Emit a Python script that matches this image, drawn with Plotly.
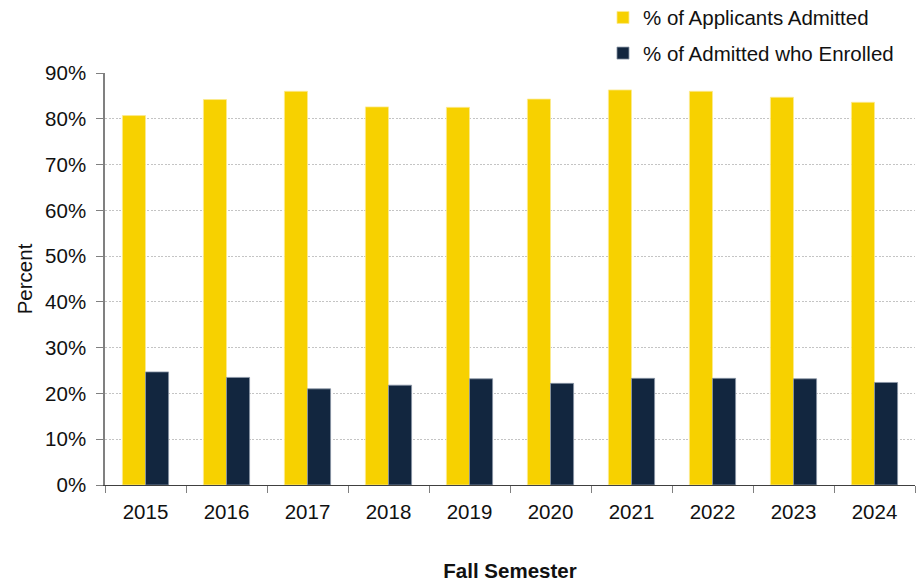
import plotly.graph_objects as go

# Fall admission and yield rates by year
years = ["2015", "2016", "2017", "2018", "2019", "2020", "2021", "2022", "2023", "2024"]
pct_admitted = [80.7, 84.2, 86.0, 82.6, 82.5, 84.3, 86.3, 86.0, 84.7, 83.6]
pct_enrolled = [24.7, 23.5, 21.0, 21.8, 23.2, 22.2, 23.3, 23.3, 23.2, 22.4]

series_names = ["% of Applicants Admitted", "% of Admitted who Enrolled"]
y_ticks = [0, 10, 20, 30, 40, 50, 60, 70, 80, 90]
y_tick_text = [f"{v}%" for v in y_ticks]

gold = "#F7D100"
navy = "#12263F"
font_family = "Liberation Sans, Arial, sans-serif"
fs = 20.5

fig = go.Figure()
fig.add_trace(go.Bar(
    x=years, y=pct_admitted, name=series_names[0], legendgroup="a",
    marker=dict(color=gold, line=dict(color="#FBEA90", width=0.8)),
))
fig.add_trace(go.Bar(
    x=years, y=pct_enrolled, name=series_names[1], legendgroup="b",
    marker=dict(color=navy, line=dict(color="#8A96A6", width=0.8)),
))

fig.update_layout(
    width=918, height=582,
    margin=dict(l=105, r=3, t=73, b=97, autoexpand=False),
    paper_bgcolor="white", plot_bgcolor="white",
    barmode="group", bargap=0.43, bargroupgap=0,
    font=dict(family=font_family, size=fs, color="#111111"),
    legend=dict(
        x=0.6148, xanchor="left", y=1.183, yanchor="top",
        traceorder="grouped", tracegroupgap=6,
        font=dict(size=fs), itemclick=False,
        bgcolor="rgba(0,0,0,0)",
    ),
)

fig.update_xaxes(
    type="category",
    showline=True, linecolor="#404040", linewidth=1.2,
    ticks="outside", tickson="boundaries", ticklen=7, tickcolor="#808080",
    tickfont=dict(size=fs), ticklabelstandoff=8,
    showgrid=False,
    title=dict(text="<b>Fall Semester</b>", font=dict(size=fs), standoff=42),
)
fig.update_yaxes(
    range=[0, 90], tickvals=y_ticks, ticktext=y_tick_text,
    showline=True, linecolor="#808080", linewidth=1.5,
    ticks="outside", ticklen=7, tickcolor="#808080",
    tickfont=dict(size=fs), ticklabelstandoff=6,
    showgrid=True, gridcolor="#C4C4C4", griddash="2px,1.5px", gridwidth=1,
    zeroline=False,
    title=dict(text="Percent", font=dict(size=fs), standoff=7),
)

fig.write_html("out.html")
